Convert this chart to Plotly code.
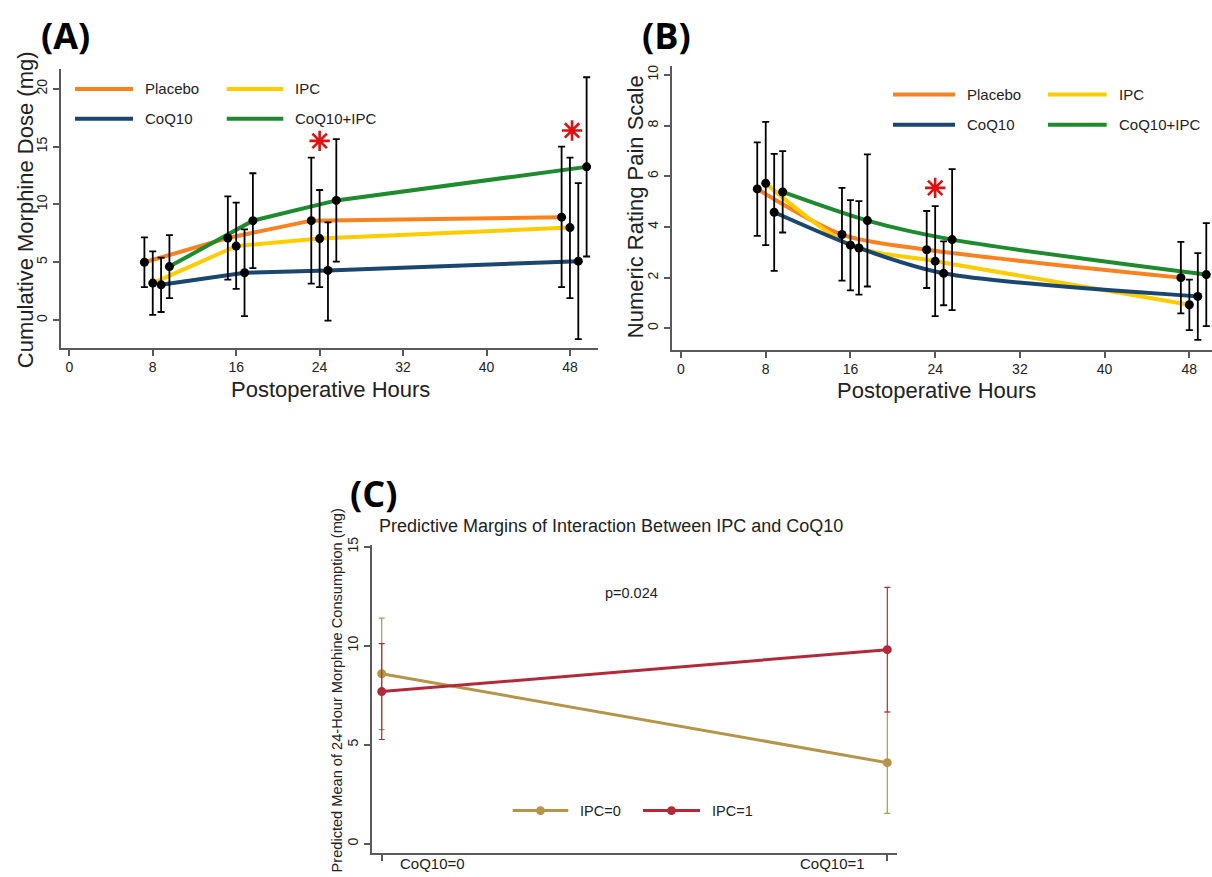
import plotly.graph_objects as go

W, H = 1212, 877

# ---------------- data ----------------
hours = [8, 16, 24, 48]
group_names = ["Placebo", "IPC", "CoQ10", "CoQ10+IPC"]
group_dodge = [-0.8, 0.0, 0.8, 1.6]          # horizontal dodge of each group (hours)
group_colors = ["#F98220", "#FFCC00", "#1A476F", "#1E8B2E"]

# Panel A: cumulative morphine dose (mg)
placebo_morph_mean = [5.0, 7.1, 8.6, 8.9]
placebo_morph_lo = [2.85, 3.5, 3.15, 2.85]
placebo_morph_hi = [7.15, 10.7, 14.05, 15.0]
ipc_morph_mean = [3.2, 6.4, 7.05, 8.0]
ipc_morph_lo = [0.45, 2.7, 2.85, 1.9]
ipc_morph_hi = [5.95, 10.15, 11.25, 14.05]
coq_morph_mean = [3.05, 4.1, 4.3, 5.1]
coq_morph_lo = [0.7, 0.35, -0.05, -1.65]
coq_morph_hi = [5.4, 7.85, 8.45, 11.85]
coqipc_morph_mean = [4.63, 8.6, 10.35, 13.25]
coqipc_morph_lo = [1.9, 4.5, 5.05, 5.5]
coqipc_morph_hi = [7.35, 12.7, 15.65, 21.0]
morph_sig_hours = [24, 48.2]
morph_sig_y = [15.5, 16.4]

# Panel B: numeric rating pain scale
placebo_nrs_mean = [5.5, 3.7, 3.1, 2.0]
placebo_nrs_lo = [3.65, 1.88, 1.59, 0.59]
placebo_nrs_hi = [7.34, 5.54, 4.63, 3.41]
ipc_nrs_mean = [5.72, 3.28, 2.65, 0.93]
ipc_nrs_lo = [3.28, 1.5, 0.48, -0.07]
ipc_nrs_hi = [8.15, 5.06, 4.82, 1.92]
coq_nrs_mean = [4.58, 3.17, 2.17, 1.26]
coq_nrs_lo = [2.27, 1.33, 0.91, -0.46]
coq_nrs_hi = [6.88, 5.02, 3.43, 2.97]
coqipc_nrs_mean = [5.38, 4.25, 3.5, 2.12]
coqipc_nrs_lo = [3.78, 1.65, 0.72, 0.09]
coqipc_nrs_hi = [6.99, 6.86, 6.28, 4.15]
nrs_sig_hours = [24]
nrs_sig_y = [5.54]

# Panel C: predictive margins
coq_levels = [0, 1]
coq_labels = ["CoQ10=0", "CoQ10=1"]
ipc0_mean = [8.58, 4.09]
ipc0_lo = [5.76, 1.53]
ipc0_hi = [11.39, 6.65]
ipc1_mean = [7.68, 9.8]
ipc1_lo = [5.26, 6.65]
ipc1_hi = [10.1, 12.95]
ipc_names = ["IPC=0", "IPC=1"]
ipc_colors = ["#B5954A", "#B22A3A"]

# ---------------- helpers ----------------
FONT = "Liberation Sans, Arial, sans-serif"
AX = "#5a5a5a"
SIG = "#E01010"


def px(x):
    return x / W


def py(y):
    return 1 - y / H


fig = go.Figure()

morph_means = [placebo_morph_mean, ipc_morph_mean, coq_morph_mean, coqipc_morph_mean]
morph_los = [placebo_morph_lo, ipc_morph_lo, coq_morph_lo, coqipc_morph_lo]
morph_his = [placebo_morph_hi, ipc_morph_hi, coq_morph_hi, coqipc_morph_hi]
nrs_means = [placebo_nrs_mean, ipc_nrs_mean, coq_nrs_mean, coqipc_nrs_mean]
nrs_los = [placebo_nrs_lo, ipc_nrs_lo, coq_nrs_lo, coqipc_nrs_lo]
nrs_his = [placebo_nrs_hi, ipc_nrs_hi, coq_nrs_hi, coqipc_nrs_hi]


def add_panel(means, los, his, xa, ya, shape, sig_x, sig_y):
    xs_all = []
    for g in range(4):
        xs = [h + group_dodge[g] for h in hours]
        xs_all.append(xs)
        fig.add_trace(go.Scatter(
            x=xs, y=means[g], mode="lines", name=group_names[g],
            line=dict(color=group_colors[g], width=4, shape=shape, smoothing=0.8),
            xaxis=xa, yaxis=ya, showlegend=False, hoverinfo="skip"))
    for g in range(4):
        m, lo, hi = means[g], los[g], his[g]
        fig.add_trace(go.Scatter(
            x=xs_all[g], y=m, mode="markers", name=group_names[g],
            marker=dict(color="black", size=9),
            error_y=dict(type="data", symmetric=False,
                         array=[h - v for h, v in zip(hi, m)],
                         arrayminus=[v - l for v, l in zip(m, lo)],
                         color="black", thickness=1.8, width=3.5),
            xaxis=xa, yaxis=ya, showlegend=False))
    # significance asterisks
    fig.add_trace(go.Scatter(
        x=sig_x, y=sig_y, mode="markers", name="p<0.05",
        marker=dict(symbol="asterisk-open", size=17, color=SIG,
                    line=dict(color=SIG, width=2.6)),
        xaxis=xa, yaxis=ya, showlegend=False, hoverinfo="skip"))


add_panel(morph_means, morph_los, morph_his, "x", "y", "linear", morph_sig_hours, morph_sig_y)
add_panel(nrs_means, nrs_los, nrs_his, "x2", "y2", "spline", nrs_sig_hours, nrs_sig_y)

for i in range(2):
    m, lo, hi = [ipc0_mean, ipc1_mean][i], [ipc0_lo, ipc1_lo][i], [ipc0_hi, ipc1_hi][i]
    fig.add_trace(go.Scatter(
        x=coq_levels, y=m, mode="lines+markers", name=ipc_names[i],
        line=dict(color=ipc_colors[i], width=3),
        marker=dict(color=ipc_colors[i], size=9),
        error_y=dict(type="data", symmetric=False,
                     array=[h - v for h, v in zip(hi, m)],
                     arrayminus=[v - l for v, l in zip(m, lo)],
                     color=ipc_colors[i], thickness=1.2, width=3),
        xaxis="x3", yaxis="y3", showlegend=False))

axis_common = dict(showline=True, linecolor=AX, linewidth=1.5, ticks="outside",
                   ticklen=6, tickwidth=1.5, tickcolor=AX, showgrid=False,
                   zeroline=False, tickfont=dict(family=FONT, size=14, color="#222"))

fig.update_layout(
    width=W, height=H, autosize=False,
    margin=dict(l=0, r=0, t=0, b=0),
    paper_bgcolor="white", plot_bgcolor="white",
    font=dict(family=FONT, color="#222"),
    xaxis=dict(domain=[px(60.7), px(598)], range=[-0.825, 50.69], anchor="y",
               tickvals=[0, 8, 16, 24, 32, 40, 48], **axis_common),
    yaxis=dict(domain=[py(343), py(61.7)], range=[-2.4, 21.7], anchor="x",
               tickvals=[0, 5, 10, 15, 20], tickangle=-90, **axis_common),
    xaxis2=dict(domain=[px(671.7), 1.0], range=[-0.878, 50.14], anchor="y2",
                tickvals=[0, 8, 16, 24, 32, 40, 48], **axis_common),
    yaxis2=dict(domain=[py(345), py(58.3)], range=[-0.85, 10.36], anchor="x2",
                tickvals=[0, 2, 4, 6, 8, 10], tickangle=-90, **axis_common),
    xaxis3=dict(domain=[px(371.7), px(896.7)], range=[-0.0198, 1.0186], anchor="y3",
                tickvals=coq_levels, showticklabels=False, **axis_common),
    yaxis3=dict(domain=[py(852.7), py(541.7)], range=[-0.47, 15.1], anchor="x3",
                tickvals=[0, 5, 10, 15], tickangle=-90, **axis_common),
)

ann = []
shapes = []


def text(x, y, t, size, **kw):
    d = dict(x=px(x), y=py(y), xref="paper", yref="paper", text=t, showarrow=False,
             font=dict(family=kw.pop("family", FONT), size=size, color=kw.pop("color", "#222")),
             xanchor=kw.pop("xanchor", "center"), yanchor=kw.pop("yanchor", "middle"))
    d.update(kw)
    ann.append(d)


# panel labels
text(65, 28, "<b>(A)</b>", 36, family="Open Sans, sans-serif", color="black")
text(666, 28, "<b>(B)</b>", 36, family="Open Sans, sans-serif", color="black")
text(373, 490, "<b>(C)</b>", 36, family="Open Sans, sans-serif", color="black")

# axis titles
text(330, 385, "Postoperative Hours", 22)
text(936.6, 386, "Postoperative Hours", 22)
text(25, 204, "Cumulative Morphine Dose (mg)", 22, textangle=-90)
text(635, 201, "Numeric Rating Pain Scale", 22, textangle=-90)
text(336.7, 689, "Predicted Mean of 24-Hour Morphine Consumption (mg)", 14.6, textangle=-90)
text(376.7, 523, "Predictive Margins of Interaction Between IPC and CoQ10", 18, xanchor="left")
text(631.5, 590, "p=0.024", 14.5)
text(398, 863.3, coq_labels[0], 15, xanchor="left")
text(867, 863.3, coq_labels[1], 15, xanchor="right")


# custom legends (Stata-style long keys)
def legend_item(x0, x1, y, color, label, size, marker=False):
    shapes.append(dict(type="line", xref="paper", yref="paper", x0=px(x0), x1=px(x1),
                       y0=py(y), y1=py(y), line=dict(color=color, width=4 if not marker else 3)))
    if marker:
        xm = (x0 + x1) / 2
        shapes.append(dict(type="circle", xref="paper", yref="paper",
                           x0=px(xm - 4.5), x1=px(xm + 4.5), y0=py(y + 4.5), y1=py(y - 4.5),
                           fillcolor=color, line=dict(color=color, width=0)))
    text(x1 + 10, y, label, size, xanchor="left")


legA = [(75, 133, 81.7), (226.7, 283.3, 81.7), (75, 133, 111.7), (226.7, 283.3, 111.7)]
for g, (a, b, y) in enumerate(legA):
    legend_item(a, b, y, group_colors[g], group_names[g], 15)
legB = [(893, 955, 87.3), (1048, 1106.7, 87.3), (893, 955, 117.7), (1048, 1106.7, 117.7)]
for g, (a, b, y) in enumerate(legB):
    legend_item(a, b, y, group_colors[g], group_names[g], 15)
legC = [(512.7, 568.3, 810), (643, 700, 810)]
for i, (a, b, y) in enumerate(legC):
    legend_item(a, b, y, ipc_colors[i], ipc_names[i], 14.5, marker=True)

fig.update_layout(annotations=ann, shapes=shapes)
fig.write_html("out.html")
